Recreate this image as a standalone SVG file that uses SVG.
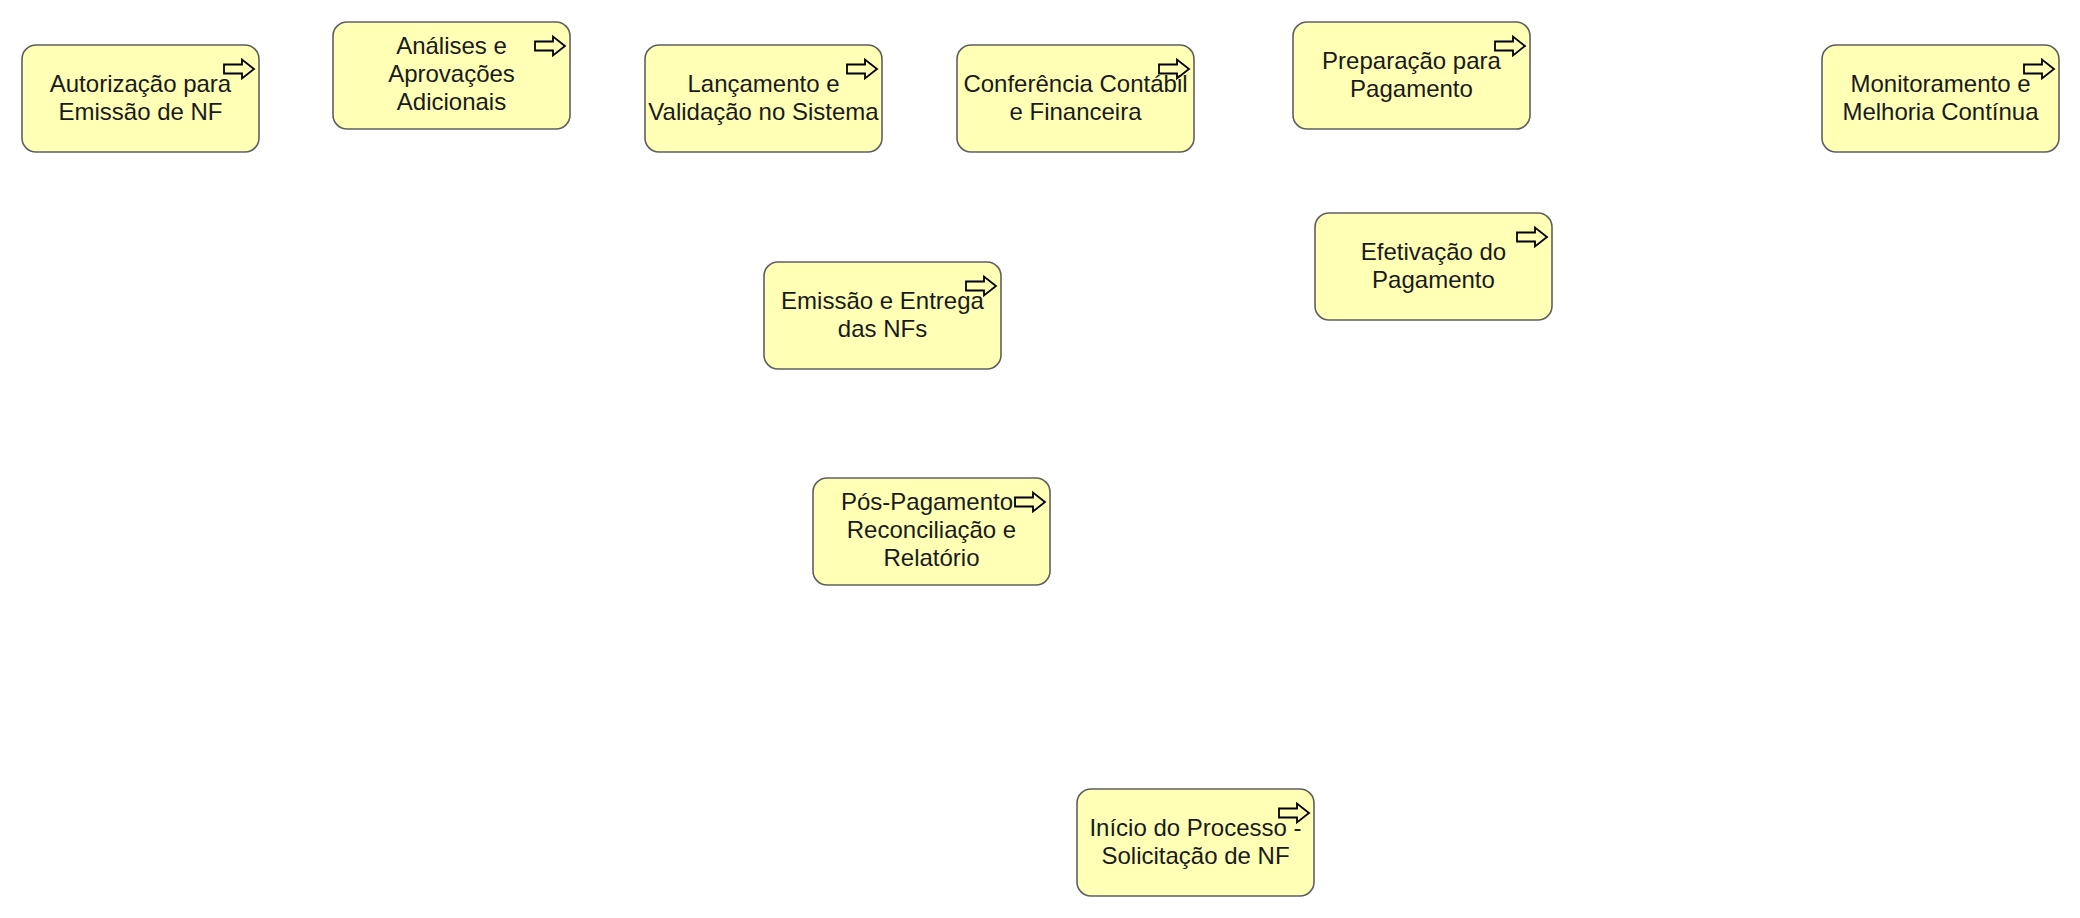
<svg xmlns="http://www.w3.org/2000/svg" xmlns:xlink="http://www.w3.org/1999/xlink" width="2080" height="918" viewBox="0 0 2080 918">
  <style>
    .box { fill: #FFFFB5; stroke: #5f5f5f; stroke-width: 1.6; }
    .icon { fill: none; stroke: #000000; stroke-width: 1.8; stroke-linejoin: miter; }
    .lbl { font-family: "Liberation Sans", Arial, sans-serif; font-size: 24px; fill: #1a1a1a; text-anchor: middle; }
  </style>
  <defs>
    <path id="procIcon" class="icon" d="M202,19.5 H220 V14.5 L232,24 L220,33.5 V28.5 H202 Z"/>
  </defs>
  <rect x="0" y="0" width="2080" height="918" fill="#ffffff"/>
  <g id="connectors"></g>

  <g id="n-autorizacao" transform="translate(22,45)">
    <rect class="box" x="0" y="0" width="237" height="107" rx="14" ry="14"/>
    <text class="lbl" x="118.5" y="47">Autorização para</text>
    <text class="lbl" x="118.5" y="75">Emissão de NF</text>
    <use xlink:href="#procIcon"/>
  </g>

  <g id="n-analises" transform="translate(333,22)">
    <rect class="box" x="0" y="0" width="237" height="107" rx="14" ry="14"/>
    <text class="lbl" x="118.5" y="32">Análises e</text>
    <text class="lbl" x="118.5" y="60">Aprovações</text>
    <text class="lbl" x="118.5" y="88">Adicionais</text>
    <use xlink:href="#procIcon"/>
  </g>

  <g id="n-lancamento" transform="translate(645,45)">
    <rect class="box" x="0" y="0" width="237" height="107" rx="14" ry="14"/>
    <text class="lbl" x="118.5" y="47">Lançamento e</text>
    <text class="lbl" x="118.5" y="75">Validação no Sistema</text>
    <use xlink:href="#procIcon"/>
  </g>

  <g id="n-conferencia" transform="translate(957,45)">
    <rect class="box" x="0" y="0" width="237" height="107" rx="14" ry="14"/>
    <text class="lbl" x="118.5" y="47">Conferência Contábil</text>
    <text class="lbl" x="118.5" y="75">e Financeira</text>
    <use xlink:href="#procIcon"/>
  </g>

  <g id="n-preparacao" transform="translate(1293,22)">
    <rect class="box" x="0" y="0" width="237" height="107" rx="14" ry="14"/>
    <text class="lbl" x="118.5" y="47">Preparação para</text>
    <text class="lbl" x="118.5" y="75">Pagamento</text>
    <use xlink:href="#procIcon"/>
  </g>

  <g id="n-monitoramento" transform="translate(1822,45)">
    <rect class="box" x="0" y="0" width="237" height="107" rx="14" ry="14"/>
    <text class="lbl" x="118.5" y="47">Monitoramento e</text>
    <text class="lbl" x="118.5" y="75">Melhoria Contínua</text>
    <use xlink:href="#procIcon"/>
  </g>

  <g id="n-efetivacao" transform="translate(1315,213)">
    <rect class="box" x="0" y="0" width="237" height="107" rx="14" ry="14"/>
    <text class="lbl" x="118.5" y="47">Efetivação do</text>
    <text class="lbl" x="118.5" y="75">Pagamento</text>
    <use xlink:href="#procIcon"/>
  </g>

  <g id="n-emissao" transform="translate(764,262)">
    <rect class="box" x="0" y="0" width="237" height="107" rx="14" ry="14"/>
    <text class="lbl" x="118.5" y="47">Emissão e Entrega</text>
    <text class="lbl" x="118.5" y="75">das NFs</text>
    <use xlink:href="#procIcon"/>
  </g>

  <g id="n-pospagamento" transform="translate(813,478)">
    <rect class="box" x="0" y="0" width="237" height="107" rx="14" ry="14"/>
    <text class="lbl" x="114" y="32">Pós-Pagamento</text>
    <text class="lbl" x="118.5" y="60">Reconciliação e</text>
    <text class="lbl" x="118.5" y="88">Relatório</text>
    <use xlink:href="#procIcon"/>
  </g>

  <g id="n-inicio" transform="translate(1077,789)">
    <rect class="box" x="0" y="0" width="237" height="107" rx="14" ry="14"/>
    <text class="lbl" x="118.5" y="47">Início do Processo -</text>
    <text class="lbl" x="118.5" y="75">Solicitação de NF</text>
    <use xlink:href="#procIcon"/>
  </g>
</svg>
